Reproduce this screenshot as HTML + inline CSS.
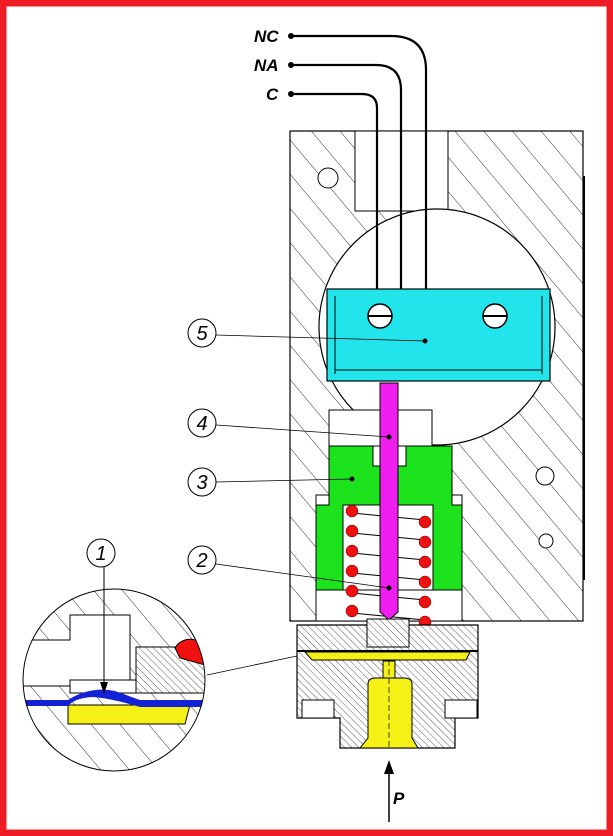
<!DOCTYPE html>
<html><head><style>
html,body{margin:0;padding:0;background:#fff;}
svg{display:block;}
text{font-family:"Liberation Sans",sans-serif;}
</style></head><body>
<svg width="613" height="836" viewBox="0 0 613 836" xmlns="http://www.w3.org/2000/svg">
<defs>
<pattern id="h" width="22" height="22" patternUnits="userSpaceOnUse" patternTransform="rotate(-40)">
<rect width="22" height="22" fill="#fff"/><line x1="0" y1="0" x2="0" y2="22" stroke="#333" stroke-width="1"/></pattern>
<pattern id="hf" width="5" height="5" patternUnits="userSpaceOnUse" patternTransform="rotate(-45)">
<rect width="5" height="5" fill="#fff"/><line x1="0" y1="0" x2="0" y2="5" stroke="#333" stroke-width="0.8"/></pattern>
<clipPath id="mag"><circle cx="114" cy="680" r="91"/></clipPath>
</defs>
<rect x="0" y="0" width="613" height="836" fill="#fff"/>
<rect x="3" y="3" width="607" height="830" fill="none" stroke="#ee1c25" stroke-width="7"/>

<!-- main body -->
<rect x="290" y="131" width="293" height="490" fill="url(#h)" stroke="#000" stroke-width="1.2"/>
<rect x="355" y="131" width="93" height="80" fill="#fff" stroke="#000"/>
<circle cx="437" cy="327" r="118" fill="#fff" stroke="#000" stroke-width="1.2"/>
<circle cx="328" cy="178" r="10" fill="#fff" stroke="#000"/>
<circle cx="545" cy="476" r="9" fill="#fff" stroke="#000"/>
<circle cx="546" cy="541" r="7" fill="#fff" stroke="#000"/>
<line x1="584" y1="176" x2="584" y2="580" stroke="#000" stroke-width="2"/>
<!-- inner chamber -->
<rect x="316" y="495" width="146" height="126" fill="#fff" stroke="#000"/>

<!-- wires -->
<g fill="none" stroke="#000" stroke-width="2.2">
<path d="M293 36 H391 Q426 36 426 70 V292"/>
<path d="M293 65 H376 Q401 65 401 90 V292"/>
<path d="M293 94 H362 Q377 94 377 108 V292"/>
</g>
<circle cx="291" cy="36" r="3"/><circle cx="291" cy="65" r="3"/><circle cx="291" cy="94" r="3"/>
<g font-weight="bold" font-style="italic" font-size="17">
<text x="254" y="42">NC</text><text x="254" y="71">NA</text><text x="266" y="100">C</text></g>

<!-- switch -->
<rect x="327" y="289" width="223" height="92" fill="#22e5ec" stroke="#000" stroke-width="1.2"/>
<line x1="335" y1="296" x2="335" y2="374" stroke="#000"/><line x1="542" y1="296" x2="542" y2="374" stroke="#000"/>
<line x1="335" y1="370" x2="542" y2="370" stroke="#000"/>
<circle cx="380" cy="316" r="12" fill="#fff" stroke="#000" stroke-width="1.5"/><line x1="368" y1="316" x2="392" y2="316" stroke="#000" stroke-width="2"/>
<circle cx="495" cy="316" r="12" fill="#fff" stroke="#000" stroke-width="1.5"/><line x1="483" y1="316" x2="507" y2="316" stroke="#000" stroke-width="2"/>

<!-- guide -->
<rect x="329" y="410" width="103" height="36" fill="#fff" stroke="#000"/>
<!-- green -->
<path d="M329 446 H452 V505 H462 V590 H316 V505 H329 Z M343 505 V590 H433 V505 Z" fill="#1de31d" fill-rule="evenodd" stroke="#000"/>
<rect x="373" y="446" width="33" height="20" fill="#fff" stroke="#000"/>
<!-- spring coils -->
<g stroke="#000" stroke-width="1" fill="none">
<path d="M352 513 L425 520 M352 533 L425 540 M352 553 L425 560 M352 573 L425 580 M352 593 L425 600 M352 613 L425 620"/>
</g>
<g fill="#f01010" stroke="#600" stroke-width="0.5">
<circle cx="352" cy="511" r="6"/><circle cx="352" cy="531" r="6"/><circle cx="352" cy="551" r="6"/><circle cx="352" cy="571" r="6"/><circle cx="352" cy="591" r="6"/><circle cx="352" cy="611" r="6"/><circle cx="353" cy="632" r="6"/>
<circle cx="425" cy="522" r="6"/><circle cx="425" cy="542" r="6"/><circle cx="425" cy="562" r="6"/><circle cx="425" cy="582" r="6"/><circle cx="425" cy="602" r="6"/><circle cx="425" cy="622" r="6"/><circle cx="425" cy="637" r="6"/>
</g>
<!-- rod -->
<path d="M380 383 H398 V612 L389 620 L380 612 Z" fill="#f01ff0" stroke="#000"/>

<!-- base -->
<path d="M297 625 H478 V718 H455 V748 H340 V718 H297 Z" fill="url(#hf)" stroke="#000" stroke-width="1.2"/>
<rect x="367" y="619" width="42" height="28" fill="url(#hf)" stroke="#000"/>
<path d="M305 652 H470 L466 660 H312 Z" fill="#f5f016" stroke="#000"/>
<line x1="297" y1="651" x2="478" y2="651" stroke="#000" stroke-width="2"/>
<rect x="383" y="661" width="12" height="18" fill="#f5f016" stroke="#000"/>
<path d="M368 684 Q368 678 376 678 H404 Q412 678 412 684 V738 L418 748 H360 L368 738 Z" fill="#f5f016" stroke="#000"/>
<rect x="302" y="700" width="32" height="18" fill="#fff" stroke="#000"/>
<rect x="445" y="700" width="32" height="18" fill="#fff" stroke="#000"/>
<line x1="389" y1="660" x2="389" y2="750" stroke="#000" stroke-dasharray="6,3" stroke-width="0.7"/>

<!-- P arrow -->
<line x1="389" y1="822" x2="389" y2="770" stroke="#000" stroke-width="1.5"/>
<path d="M389 760 L384 774 H394 Z"/>
<text x="393" y="804" font-weight="bold" font-style="italic" font-size="17">P</text>

<!-- magnifier -->
<g clip-path="url(#mag)">
<rect x="20" y="585" width="190" height="190" fill="url(#h)"/>
<path d="M20 640 H70 V615 H130 V686 H20 Z" fill="#fff" stroke="#000"/>
<rect x="136" y="647" width="74" height="46" fill="url(#hf)" stroke="#000"/>
<rect x="70" y="680" width="66" height="13" fill="#fff" stroke="#000"/>
<path d="M175 648 A16 16 0 0 1 205 665 L180 658 Z" fill="#f01010" stroke="#000"/>
<path d="M68 705 H190 L185 724 H68 Z" fill="#f5f016" stroke="#000"/>
<path d="M20 700 H68 Q90 686 115 691 L140 700 H210 V707 H140 Q110 698 92 697 Q75 698 68 706 H20 Z" fill="#1422d6"/>
</g>
<circle cx="114" cy="680" r="91" fill="none" stroke="#000"/>
<line x1="207" y1="675" x2="297" y2="656" stroke="#000" stroke-width="0.8"/>
<line x1="104" y1="567" x2="104" y2="684" stroke="#000"/>
<path d="M104 694 L100 682 H108 Z"/>

<!-- callouts -->
<g fill="#fff" stroke="#000" stroke-width="1">
<circle cx="101" cy="553" r="14"/><circle cx="202" cy="560" r="14"/><circle cx="202" cy="482" r="14"/><circle cx="202" cy="423" r="14"/><circle cx="202" cy="333" r="14"/>
</g>
<g font-size="20" font-style="italic" text-anchor="middle">
<text x="101" y="560">1</text><text x="202" y="567">2</text><text x="202" y="489">3</text><text x="202" y="430">4</text><text x="202" y="340">5</text></g>
<g stroke="#000" stroke-width="0.8">
<line x1="216" y1="335" x2="425" y2="341"/><line x1="216" y1="425" x2="389" y2="437"/>
<line x1="216" y1="482" x2="352" y2="479"/><line x1="216" y1="564" x2="389" y2="588"/>
</g>
<circle cx="425" cy="341" r="2.5"/><circle cx="389" cy="437" r="2.5"/><circle cx="352" cy="479" r="2.5"/><circle cx="389" cy="588" r="2.5"/>
</svg>
</body></html>
